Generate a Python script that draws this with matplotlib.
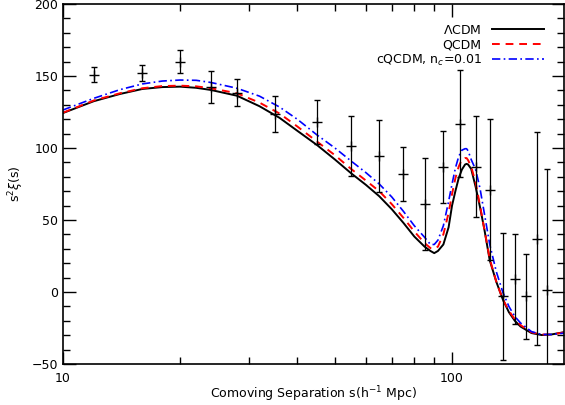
import numpy as np
import matplotlib
matplotlib.use("Agg")
import matplotlib.pyplot as plt
from matplotlib.ticker import MultipleLocator, LogLocator, NullFormatter, FixedFormatter, FixedLocator

# measured correlation function points
s_data = [12, 16, 20, 24, 28, 35, 45, 55, 65, 75, 85, 95, 105, 115, 125, 135, 145, 155, 165, 175]
xi_data = [151, 152, 160, 142.5, 138.5, 123.5, 118, 101.5, 94.5, 82, 61, 87, 117, 87, 71, -3, 9, -3, 37, 1.5]
xi_err = [5.5, 5.5, 8, 11, 9.5, 12.5, 15.5, 21, 25, 18.5, 32, 25, 37, 35, 49, 44, 31, 29.5, 74, 84]

# model curves
s_model = [10, 12, 14, 16, 18, 20, 22, 24, 28, 32, 36, 40, 45, 50, 55, 60, 65, 70, 75, 80,
           85, 88, 90, 92, 95, 98, 100, 102, 104, 106, 108, 109, 110, 112, 115, 118, 121, 125,
           130, 135, 140, 145, 150, 160, 170, 180, 195]
lcdm = [124.3, 132.5, 137.5, 141, 142.3, 142.6, 141.8, 140.3, 136.3, 129, 121, 112, 102, 92, 82.5, 74.5, 66.5, 57.5, 48, 38.5,
        31.5, 28.5, 27, 28.5, 33, 45, 60, 70, 79, 85, 88.5, 89, 88.5, 85.5, 73, 59, 44, 22,
        7, -5, -14, -20, -24, -28.5, -29.9, -29.5, -27.8]
qcdm = [124.5, 133, 138, 141.5, 143, 143.3, 142.8, 141.5, 138, 131.5, 124, 115, 104.4, 95, 85.5, 77.5, 70, 61, 51.5, 42,
        34, 30.5, 30, 31.5, 40, 55, 68, 79, 87, 92, 93, 93, 91.5, 87, 76, 60, 44, 23,
        7, -5, -13, -19, -23, -28, -29.5, -29.5, -28]
cqcdm = [126.4, 134.5, 140.5, 144.5, 146.5, 147.2, 147, 145.5, 141.5, 136, 128.5, 120, 109, 100, 91, 83, 75, 66, 56, 46,
         38, 33, 33, 36, 46, 63, 75, 86, 94, 98.5, 99.5, 99.5, 98, 92, 85, 72, 55, 33,
         14, 0, -10, -17, -21.5, -27.5, -29.5, -29.5, -28.5]

fig = plt.figure(figsize=(5.65, 4.05), dpi=100)
ax = fig.add_axes([63/565, 41/405, 501/565, 360/405])

ax.plot(s_model, lcdm, color="black", lw=1.4, label=r"$\Lambda$CDM")
ax.plot(s_model, qcdm, color="#ff0000", lw=1.4, dashes=(4, 3), label="QCDM")
ax.plot(s_model, cqcdm, color="#0000ff", lw=1.2, dashes=(5, 2, 1, 2), label=r"cQCDM, n$_c$=0.01")

ax.errorbar(s_data, xi_data, yerr=xi_err, fmt="+", color="black", ms=6.5, mew=1.0,
            elinewidth=0.9, capsize=2.2, capthick=0.9, zorder=5)

ax.set_xscale("log")
ax.set_xlim(10, 194)
ax.set_ylim(-50, 200)

ax.xaxis.set_major_locator(FixedLocator([10, 100]))
ax.xaxis.set_major_formatter(FixedFormatter(["10", "100"]))
ax.xaxis.set_minor_locator(LogLocator(base=10, subs=np.arange(2, 10)))
ax.xaxis.set_minor_formatter(NullFormatter())
ax.yaxis.set_major_locator(MultipleLocator(50))
ax.yaxis.set_minor_locator(MultipleLocator(10))

ax.tick_params(which="both", direction="in", top=True, right=True, labelsize=9, width=1)
ax.tick_params(which="major", length=9)
ax.tick_params(which="minor", length=5)
ax.tick_params(axis="x", which="major", pad=6)
for sp in ax.spines.values():
    sp.set_linewidth(1.2)

ax.set_xlabel(r"Comoving Separation s(h$^{-1}$ Mpc)", fontsize=9, labelpad=-1)
ax.set_ylabel(r"s$^2\xi$(s)", fontsize=9, labelpad=4)

ax.legend(loc="upper right", bbox_to_anchor=(0.983, 0.977), frameon=False, markerfirst=False,
          fontsize=9, handlelength=4.2, labelspacing=0.12, handletextpad=0.8)

fig.savefig("out.png", dpi=100)
